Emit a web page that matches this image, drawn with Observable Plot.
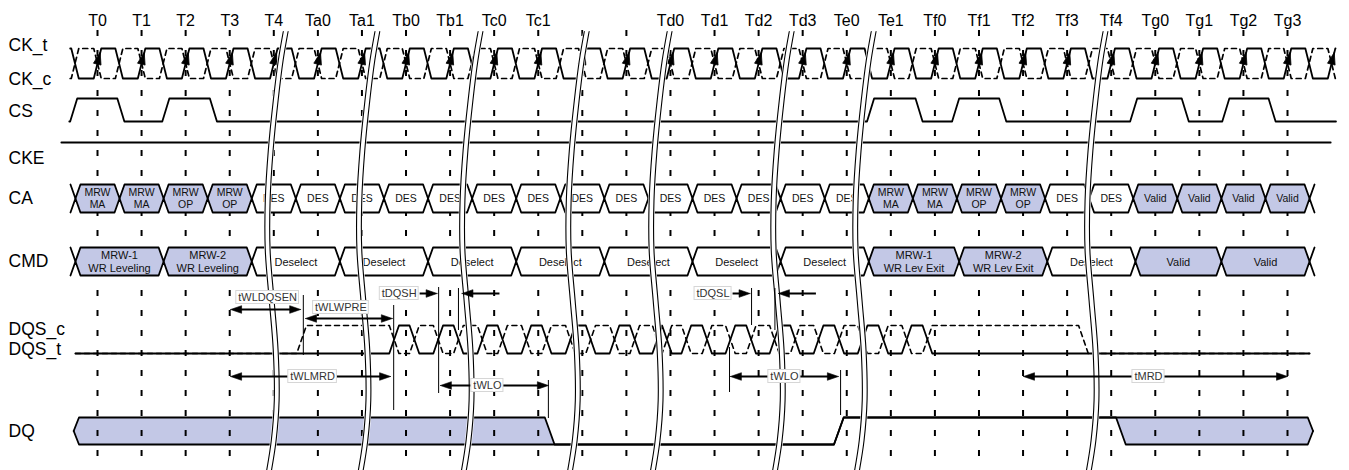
<!DOCTYPE html>
<html>
<head>
<meta charset="utf-8">
<title>Write Leveling timing</title>
<script src="https://cdn.jsdelivr.net/npm/d3@7"></script>
<script src="https://cdn.jsdelivr.net/npm/@observablehq/plot@0.6"></script>
<style>
  html, body { margin: 0; padding: 0; background: #fff; }
  #chart svg { display: block; }
</style>
</head>
<body>
<div id="chart"></div>
<script>
// ================= DATA (times are in clock-tick units, T0 = 0) =================
const tickLabels = ["T0","T1","T2","T3","T4","Ta0","Ta1","Tb0","Tb1","Tc0","Tc1","","","Td0","Td1","Td2","Td3","Te0","Te1","Tf0","Tf1","Tf2","Tf3","Tf4","Tg0","Tg1","Tg2","Tg3"];
const signalNames = ["CK_t","CK_c","CS","CKE","CA","CMD","DQS_c","DQS_t","DQ"];
const clockCycles = [0,1,2,3,4,5,6,7,8,9,10,11,12,13,14,15,16,17,18,19,20,21,22,23,24,25,26,27,28];

const csEdges = [-0.54,0.53,1.55,2.63,17.54,18.64,19.47,20.54,23.51,24.68,25.6,26.65];

const caCommands = ["MRW\nMA","MRW\nMA","MRW\nOP","MRW\nOP","DES","DES","DES","DES","DES","DES","DES","DES","DES","DES","DES","DES","DES","DES","MRW\nMA","MRW\nMA","MRW\nOP","MRW\nOP","DES","DES","Valid","Valid","Valid","Valid"];
const caBoundaries = [-0.5,0.5,1.5,2.5,3.5,4.5,5.5,6.5,7.5,8.5,9.5,10.5,11.5,12.5,13.5,14.5,15.5,16.5,17.5,18.5,19.5,20.5,21.5,22.5,23.5,24.5,25.5,26.5,27.5];

const cmdCommands = ["MRW-1\nWR Leveling","MRW-2\nWR Leveling","Deselect","Deselect","Deselect","Deselect","Deselect","Deselect","Deselect","MRW-1\nWR Lev Exit","MRW-2\nWR Lev Exit","Deselect","Valid","Valid"];
const cmdBoundaries = [-0.5,1.5,3.5,5.5,7.5,9.5,11.5,13.5,15.5,17.5,19.55,21.55,23.55,25.5,27.5];

const dqsTEdges = [6.73,7.19,7.73,8.19,8.73,9.19,9.73,10.19,10.73,11.19,11.73,12.19,12.70,12.92,13.36,13.83,14.36,14.83,15.36,15.83,16.36,16.83,17.36,17.83,18.36,18.83];
const dqsPreamble = 4.63;
const dqsCPostamble = 22.37;

const dqStates = [
  {state: "valid", start: -0.48},
  {state: "low",   start: 10.26},
  {state: "high",  start: 16.82},
  {state: "valid", start: 23.22}
];
const dqEnd = 27.52;

const breakTimes = [4.27, 6.35, 8.69, 11.1, 12.98, 15.75, 17.61, 22.87];

const spanArrows = [
  {name: "tWLDQSEN", start: 3.02, end: 4.61},
  {name: "tWLWPRE",  start: 4.72, end: 6.69},
  {name: "tWLMRD",   start: 3.02, end: 6.65},
  {name: "tWLO",     start: 7.78, end: 10.23},
  {name: "tWLO",     start: 14.36, end: 16.81},
  {name: "tMRD",     start: 21.01, end: 27.0}
];
const pulseArrows = [
  {name: "tDQSH", start: 7.74, end: 8.19},
  {name: "tDQSL", start: 14.84, end: 15.37}
];
const guideTimes = [4.67, 6.72, 7.74, 8.19, 10.23, 14.34, 14.84, 15.37, 16.86];

// ================= LAYOUT / STYLE =================
const W = 1349, H = 470;
const X0 = 97, X1 = 1287;
const PX = (X1 - X0) / 27;               // pixels per clock
const FONT = "'Liberation Sans', Arial, Helvetica, sans-serif";
const LAV = "#c3c8e6";
const lanes = {
  CK: {hi: 48, lo: 78}, CS: {hi: 98, lo: 121}, CKE: {y: 142},
  CA: {top: 184, bot: 212}, CMD: {top: 247, bot: 275},
  DQS: {hi: 325, lo: 353}, DQ: {top: 417, bot: 444}
};
const labelY = {CK_t: 45, CK_c: 79, CS: 111, CKE: 158, CA: 198, CMD: 261, DQS_c: 329, DQS_t: 349, DQ: 431};
const spanLayout = [
  {y: 309, dy: -12, dx: 2}, {y: 318, dy: -11, dx: -8}, {y: 376, dy: 0, dx: 2},
  {y: 385, dy: 0, dx: -7}, {y: 376, dy: 0, dx: 0}, {y: 376, dy: 0, dx: -7}
];
const pulseY = 293;
const guideLayout = [[295,355],[305,410],[287,393],[288,330],[380,418],[347,392],[288,325],[288,330],[370,415]];
const breakShape = [[0,31],[-5,60],[-10,100],[-15,150],[-18,200],[-18,250],[-14,300],[-10,350],[-9,400],[-12,440],[-17,472]];

// ================= BUILDERS =================
function digital(edges, t0, t1, v0, w, lane) {
  const Y = v => lane.lo + v * (lane.hi - lane.lo);
  let v = v0;
  const pts = [{x: t0, y: Y(v)}];
  for (const e of edges) {
    pts.push({x: e - w / 2, y: Y(v)});
    v = 1 - v;
    pts.push({x: e + w / 2, y: Y(v)});
  }
  pts.push({x: t1, y: Y(v)});
  return pts;
}
function bus(bounds, labels, lane, h) {
  const mid = (lane.top + lane.bot) / 2;
  const top = [], bot = [];
  bounds.forEach(c => {
    top.push({x: c - h, y: lane.top}, {x: c, y: mid}, {x: c + h, y: lane.top});
    bot.push({x: c - h, y: lane.bot}, {x: c, y: mid}, {x: c + h, y: lane.bot});
  });
  const cells = [], texts = [];
  labels.forEach((lab, k) => {
    const a = bounds[k], b = bounds[k + 1];
    const filled = lab.startsWith("MRW") || lab === "Valid";
    [[a, mid, mid], [a + h, lane.top, lane.bot], [b - h, lane.top, lane.bot], [b, mid, mid]]
      .forEach(([x, y1, y2]) => cells.push({id: k, filled, x, y1, y2}));
    texts.push({x: (a + b) / 2, y: mid, text: lab});
  });
  return {top, bot, cells, texts};
}
// filled arrowhead polygon; tip at (t, y), pointing along angle (deg, screen coords)
let headId = 0;
function head(t, y, angle, L, hw) {
  const a = angle * Math.PI / 180, ux = Math.cos(a), uy = Math.sin(a);
  const bx = -L * ux, by = -L * uy, px = -uy * hw, py = ux * hw;
  const id = headId++;
  return [
    {id, x: t, y},
    {id, x: t + (bx + px) / PX, y: y + by + py},
    {id, x: t + (bx - px) / PX, y: y + by - py},
    {id, x: t, y}
  ];
}

const ckEdges = [-0.51].concat(clockCycles.flatMap(i => i < 28 ? [i, i + 0.49] : [i]));
const ckT = digital(ckEdges, -0.62, 28.09, 1, 0.17, lanes.CK);
const ckC = digital(ckEdges, -0.62, 28.09, 0, 0.17, lanes.CK);
const cs = digital(csEdges, -0.64, 28.1, 0, 0.16, lanes.CS);
const cke = [{x: -0.82, y: lanes.CKE.y}, {x: 27.98, y: lanes.CKE.y}];
const dqsT = digital(dqsTEdges, -0.5, 27.5, 0, 0.22, lanes.DQS);
const dqsC = digital([dqsPreamble, ...dqsTEdges, dqsCPostamble], -0.5, 27.5, 0, 0.22, lanes.DQS);
const ca = bus(caBoundaries, caCommands, lanes.CA, 0.113);
const cmd = bus(cmdBoundaries, cmdCommands, lanes.CMD, 0.113);

// DQ bus (valid / low / high)
const dqPts = (() => {
  const L = lanes.DQ, mid = (L.top + L.bot) / 2, h = 0.11, he = 0.06;
  const T = s => s === "low" ? L.bot : L.top;
  const B = s => s === "high" ? L.top : L.bot;
  const p = [];
  const s0 = dqStates[0];
  p.push({x: s0.start - he, top: mid, bot: mid});
  p.push({x: s0.start + he, top: T(s0.state), bot: B(s0.state)});
  for (let k = 1; k < dqStates.length; k++) {
    const a = dqStates[k - 1].state, b = dqStates[k].state, c = dqStates[k].start;
    p.push({x: c - h, top: T(a), bot: B(a)});
    p.push({x: c + h, top: T(b), bot: B(b)});
  }
  const last = dqStates[dqStates.length - 1].state;
  p.push({x: dqEnd - he, top: T(last), bot: B(last)});
  p.push({x: dqEnd + he, top: mid, bot: mid});
  return p;
})();

const breakPts = breakTimes.flatMap((b, id) => breakShape.map(([dx, y]) => ({id, x: b + dx / PX, y})));

// annotation geometry
const ctx = document.createElement("canvas").getContext("2d");
ctx.font = "11px " + FONT;
const tw = s => ctx.measureText(s).width;

const shafts = [], heads = [], boxes = [], annTexts = [];
spanArrows.forEach((a, i) => {
  const lay = spanLayout[i];
  shafts.push({x1: a.start + 4 / PX, x2: a.end - 4 / PX, y: lay.y});
  heads.push(...head(a.start, lay.y, 180, 11, 3.8));
  heads.push(...head(a.end, lay.y, 0, 11, 3.8));
  const cx = (a.start + a.end) / 2 + lay.dx / PX, cy = lay.y + lay.dy, w = tw(a.name);
  boxes.push({x1: cx - (w / 2 + 2) / PX, x2: cx + (w / 2 + 2) / PX, y1: cy - 6.5, y2: cy + 6.5});
  annTexts.push({x: cx, y: cy, text: a.name});
});
pulseArrows.forEach(a => {
  const y = pulseY;
  shafts.push({x1: a.start - 19 / PX, x2: a.start - 6 / PX, y});
  heads.push(...head(a.start - 1.5 / PX, y, 0, 11, 3.8));
  shafts.push({x1: a.end + 41 / PX, x2: a.end + 8 / PX, y});
  heads.push(...head(a.end + 3.5 / PX, y, 180, 11, 3.8));
  const w = tw(a.name), right = a.start - 20 / PX, cx = right - (w / 2 + 2) / PX;
  boxes.push({x1: right - (w + 4) / PX, x2: right, y1: y - 6.5, y2: y + 6.5});
  annTexts.push({x: cx, y, text: a.name});
});
const guides = guideTimes.map((t, i) => ({x: t, y1: guideLayout[i][0], y2: guideLayout[i][1]}));
const ckHeads = clockCycles.flatMap(i => head(i + 0.06, 52, -76, 12, 3.9));

const sig = signalNames.map(n => ({name: n, y: labelY[n]}));

// ================= PLOT =================
const chart = Plot.plot({
  width: W, height: H, margin: 0,
  x: {domain: [0, 27], range: [X0, X1], axis: null},
  y: {domain: [0, H], range: [0, H], axis: null},
  style: {fontFamily: FONT, background: "#fff", overflow: "visible"},
  marks: [
    // DQ fill
    Plot.area(dqPts, {x1: "x", y1: "top", y2: "bot", fill: LAV}),
    // dashed clock reference lines
    Plot.ruleX(clockCycles.slice(0, 28), {x: d => d, y1: 30, y2: 463, stroke: "#000", strokeWidth: 2, strokeDasharray: "6,14"}),
    // bus cells
    Plot.area(ca.cells.filter(d => d.filled), {x1: "x", y1: "y1", y2: "y2", z: "id", fill: LAV}),
    Plot.area(ca.cells.filter(d => !d.filled), {x1: "x", y1: "y1", y2: "y2", z: "id", fill: "#fff"}),
    Plot.area(cmd.cells.filter(d => d.filled), {x1: "x", y1: "y1", y2: "y2", z: "id", fill: LAV}),
    Plot.area(cmd.cells.filter(d => !d.filled), {x1: "x", y1: "y1", y2: "y2", z: "id", fill: "#fff"}),
    // waveforms
    Plot.line(ckC, {x: "x", y: "y", stroke: "#000", strokeWidth: 1.7, strokeDasharray: "5,4"}),
    Plot.line(ckT, {x: "x", y: "y", stroke: "#000", strokeWidth: 1.8}),
    Plot.line(cs, {x: "x", y: "y", stroke: "#000", strokeWidth: 1.8}),
    Plot.line(cke, {x: "x", y: "y", stroke: "#000", strokeWidth: 1.8}),
    Plot.line(ca.top, {x: "x", y: "y", stroke: "#000", strokeWidth: 1.8}),
    Plot.line(ca.bot, {x: "x", y: "y", stroke: "#000", strokeWidth: 1.8}),
    Plot.line(cmd.top, {x: "x", y: "y", stroke: "#000", strokeWidth: 1.8}),
    Plot.line(cmd.bot, {x: "x", y: "y", stroke: "#000", strokeWidth: 1.8}),
    Plot.line(dqsC, {x: "x", y: "y", stroke: "#000", strokeWidth: 1.6, strokeDasharray: "5,4"}),
    Plot.line(dqsT, {x: "x", y: "y", stroke: "#000", strokeWidth: 1.8}),
    Plot.line(dqPts, {x: "x", y: "top", stroke: "#000", strokeWidth: 1.8}),
    Plot.line(dqPts, {x: "x", y: "bot", stroke: "#000", strokeWidth: 1.8}),
    // bus texts
    Plot.text(ca.texts, {x: "x", y: "y", text: "text", fontSize: 10.5, lineHeight: 1.15, fill: "#111", fontFamily: FONT}),
    Plot.text(cmd.texts, {x: "x", y: "y", text: "text", fontSize: 11, lineHeight: 1.2, fill: "#111", fontFamily: FONT}),
    // clock edge arrows
    Plot.line(ckHeads, {x: "x", y: "y", z: "id", fill: "#000", stroke: "#000", strokeWidth: 0.8}),
    // time breaks
    Plot.line(breakPts, {x: "x", y: "y", z: "id", stroke: "#fff", strokeWidth: 7, curve: "catmull-rom"}),
    Plot.line(breakPts, {x: "x", y: "y", z: "id", stroke: "#000", strokeWidth: 1.1, curve: "catmull-rom", dx: -2.4}),
    Plot.line(breakPts, {x: "x", y: "y", z: "id", stroke: "#000", strokeWidth: 1.1, curve: "catmull-rom", dx: 2.4}),
    // guides and timing arrows
    Plot.ruleX(guides, {x: "x", y1: "y1", y2: "y2", stroke: "#000", strokeWidth: 1}),
    Plot.link(shafts, {x1: "x1", x2: "x2", y1: "y", y2: "y", stroke: "#000", strokeWidth: 2}),
    Plot.line(heads, {x: "x", y: "y", z: "id", fill: "#000", stroke: "#000", strokeWidth: 0.6}),
    Plot.rect(boxes, {x1: "x1", x2: "x2", y1: "y1", y2: "y2", fill: "#fff", stroke: "#d6d6d6", strokeWidth: 1}),
    Plot.text(annTexts, {x: "x", y: "y", text: "text", fontSize: 11, fill: "#333", fontFamily: FONT}),
    // tick labels
    Plot.text(tickLabels.map((t, i) => ({x: i, t})), {x: "x", y: () => 20, text: "t", fontSize: 16, fill: "#000", fontFamily: FONT}),
    // signal names
    Plot.text(sig, {frameAnchor: "left", dx: 8, y: "y", text: "name", textAnchor: "start", fontSize: 17.5, fill: "#000", fontFamily: FONT})
  ]
});
document.getElementById("chart").appendChild(chart);
</script>
</body>
</html>
